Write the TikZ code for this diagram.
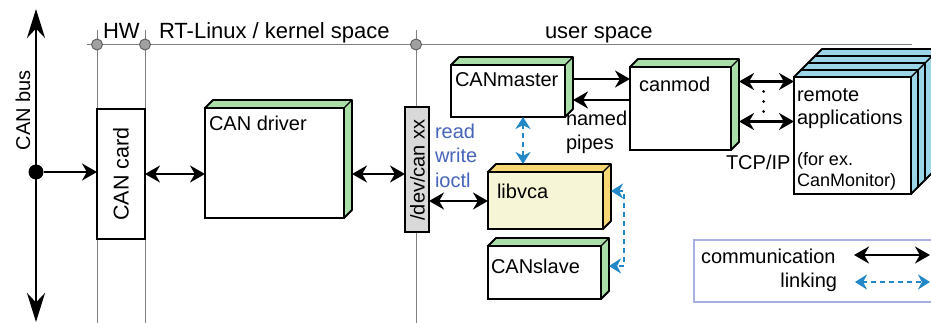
\documentclass[tikz,border=0pt]{standalone}
\usepackage{fontspec}
\setmainfont{Liberation Sans}
\usetikzlibrary{arrows.meta}
\definecolor{sidegreen}{RGB}{169,222,169}
\definecolor{sideyellow}{RGB}{247,214,116}
\definecolor{frontyellow}{RGB}{246,246,214}
\definecolor{sideblue}{RGB}{155,214,232}
\definecolor{devgray}{RGB}{217,217,217}
\definecolor{linegray}{RGB}{128,128,128}
\definecolor{markergray}{RGB}{160,160,160}
\definecolor{textblue}{RGB}{70,100,185}
\definecolor{linkblue}{RGB}{34,136,200}
\definecolor{legendborder}{RGB}{168,178,224}
\tikzset{
  boxnode/.style={draw=black, line width=2.4pt, rectangle, inner sep=0pt, outer sep=0pt},
  txt/.style={inner sep=0pt, outer sep=0pt, font=\fontsize{20}{24}\selectfont},
  hdr/.style={inner sep=0pt, outer sep=0pt, font=\fontsize{22}{26}\selectfont},
  small/.style={inner sep=0pt, outer sep=0pt, font=\fontsize{18}{22}\selectfont},
  bluetxt/.style={txt, text=textblue},
  grayline/.style={draw=linegray, line width=1pt},
  marker/.style={circle, draw=linegray!70!black, fill=markergray, line width=0.9pt, minimum size=11pt, inner sep=0pt},
  comm/.style={draw=black, line width=2.2pt, {Stealth[length=15pt,width=17pt]}-{Stealth[length=15pt,width=17pt]}},
  commone/.style={draw=black, line width=2.2pt, -{Stealth[length=15pt,width=17pt]}},
  busarrow/.style={draw=black, line width=2.4pt, {Stealth[length=29pt,width=18pt]}-{Stealth[length=29pt,width=18pt]}},
  link/.style={draw=linkblue, line width=2pt, dash pattern=on 5pt off 4pt, {Stealth[length=12pt,width=15pt]}-{Stealth[length=12pt,width=15pt]}},
}
% 3D box: name, x, y (top-left of front), w, h, front fill, side fill, depth
\newcommand{\tdbox}[8]{%
  \filldraw[fill=#7, draw=black, line width=1.8pt, line join=round]
    (#2,#3) -- ++(#8,-#8) -- ++(#4,0) -- ++(0,#5) -- ++(-#8,#8) -- ++(0,-#5) -- cycle;
  \draw[line width=1.4pt] (#2+#4,#3) -- ++(#8,-#8);
  \node[boxnode, fill=#6, minimum width=#4pt, minimum height=#5pt, anchor=north west] (#1) at (#2,#3) {};
  \coordinate (#1 br) at (#2+#4+#8,#3+#5/2);
  \coordinate (#1 top) at (#2,#3-#8);
}
\begin{document}
\begin{tikzpicture}[x=1pt,y=-1pt]
\useasboundingbox (0,0) rectangle (931,323);
\clip (0,0) rectangle (931,323);
\fill[white] (0,0) rectangle (931,323);

% layer lines
\draw[grayline] (87,44.5) -- (912,44.5);
\draw[grayline] (97,30) -- (97,323);
\draw[grayline] (145,30) -- (145,323);
\draw[grayline] (416,30) -- (416,323);
\node[marker] (m1) at (97,44.5) {};
\node[marker] (m2) at (145,44.5) {};
\node[marker] (m3) at (416,44.5) {};
\node[hdr, anchor=base west] (hw) at (103,39) {HW};
\node[hdr, anchor=base west] (rt) at (159,39) {RT-Linux / kernel space};
\node[hdr, anchor=base west] (us) at (545,39) {user space};

% CAN bus
\coordinate (bustop) at (36,9);
\coordinate (busbot) at (36,322);
\draw[busarrow] (bustop) -- (busbot);
\node[txt, rotate=90] (buslabel) at (23,110) {CAN bus};
\node[circle, fill=black, inner sep=0pt, minimum size=15pt] (dot) at (36,172) {};

% CAN card
\node[boxnode, fill=white, minimum width=48pt, minimum height=130pt, anchor=north west] (cancard) at (97,109) {};
\node[txt, rotate=90, font=\fontsize{21.5}{24}\selectfont] (cancardlabel) at (cancard.center) {CAN card};

% CAN driver
\tdbox{driver}{205}{108}{139}{110}{white}{sidegreen}{8}
\node[txt, anchor=base west] (driverlabel) at (209,131) {CAN driver};

% /dev/can xx
\node[draw=black, line width=2.4pt, fill=devgray, inner sep=0pt, outer sep=0pt, minimum width=24pt, minimum height=125pt, anchor=north west] (dev) at (405,107) {};
\node[txt, rotate=90] (devlabel) at (417.5,170) {/dev/can xx};

% read write ioctl
\node[bluetxt, anchor=base west] (rd) at (435,139) {read};
\node[bluetxt, anchor=base west] (wr) at (435,163) {write};
\node[bluetxt, anchor=base west] (io) at (435,188) {ioctl};

% user-space boxes
\tdbox{canmaster}{451}{65}{114}{52}{white}{sidegreen}{8}
\node[txt, anchor=base west] (cmlabel) at (455,87) {CANmaster};
\tdbox{canmod}{630}{67}{101}{83}{white}{sidegreen}{8}
\node[txt, anchor=base west] (canmodlabel) at (639,92) {canmod};
\tdbox{libvca}{488}{172}{115}{57}{frontyellow}{sideyellow}{8}
\node[txt, anchor=base west] (libvcalabel) at (497,198) {libvca};
\tdbox{canslave}{488}{246}{113}{53}{white}{sidegreen}{8}
\node[txt, anchor=base west] (canslavelabel) at (491,273) {CANslave};

% remote applications stack
\tdbox{remote3}{815}{56}{117}{117}{white}{sideblue}{7}
\tdbox{remote2}{808}{63}{117}{117}{white}{sideblue}{7}
\tdbox{remote1}{801}{70}{117}{117}{white}{sideblue}{7}
\tdbox{remote}{794}{77}{117}{117}{white}{sideblue}{7}
\node[txt, anchor=base west] (r1) at (797,102) {remote};
\node[txt, anchor=base west] (r2) at (797,125) {applications};
\node[small, anchor=base west] (r3) at (797,166) {(for ex.};
\node[small, anchor=base west] (r4) at (797,186) {CanMonitor)};

% labels
\node[txt, anchor=base west] (named) at (566,126) {named};
\node[txt, anchor=base west] (pipes) at (566,150) {pipes};
\node[txt, anchor=base west] (tcp) at (726,170) {TCP/IP};

% helper rows
\coordinate (yA) at (0,79);
\coordinate (yB) at (0,100);
\coordinate (yC) at (0,81.5);
\coordinate (yD) at (0,121.5);
\coordinate (yE) at (0,191);
\coordinate (yF) at (0,266);
\coordinate (xL) at (523,0);
\coordinate (xR) at (624,0);

% communication arrows
\draw[commone] (dot) -- (cancard.west |- dot);
\draw[comm] (cancard.east |- 0,174) -- (driver.west |- 0,174);
\draw[comm] (driver br |- 0,174) -- (dev.west |- 0,174);
\draw[comm] (dev.east |- 0,201) -- (libvca.west |- 0,201);
\draw[commone] (canmaster br |- yA) -- (canmod.west |- yA);
\draw[commone] (canmod.west |- yB) -- (canmaster br |- yB);
\draw[comm] (canmod br |- yC) -- (remote.west |- yC);
\draw[comm] (canmod br |- yD) -- (remote.west |- yD);
\fill (763.5,91.5) circle (1.5pt) (763.5,101.5) circle (1.5pt) (763.5,111.5) circle (1.5pt);

% linking arrows
\draw[link] (canmaster.south -| xL) -- (xL |- libvca top);
\draw[link] (libvca br |- yE) -- (xR |- yE) -- (xR |- yF) -- (canslave br |- yF);

% legend
\node[draw=legendborder, line width=1.3pt, inner sep=0pt, outer sep=0pt, minimum width=260pt, minimum height=62pt, anchor=north west] (legend) at (694,240) {};
\node[txt, anchor=base west] (lcomm) at (701,263) {communication};
\node[txt, anchor=base east] (llink) at (837,287) {linking};
\coordinate (lc1) at (854,255);
\coordinate (lc2) at (930,255);
\coordinate (ll1) at (855,282);
\coordinate (ll2) at (930,282);
\draw[comm] (lc1) -- (lc2);
\draw[link] (ll1) -- (ll2);
\end{tikzpicture}
\end{document}
